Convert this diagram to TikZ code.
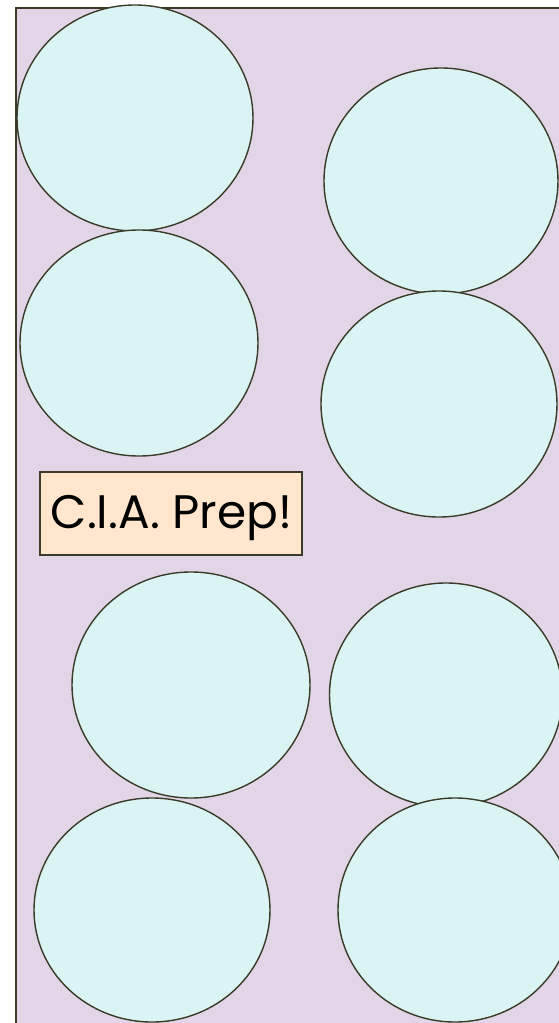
\documentclass[tikz,border=0pt]{standalone}
\usepackage{fontspec}
\setmainfont{Poppins}
\usetikzlibrary{shapes.geometric}
\definecolor{bgpurple}{HTML}{E1D5E7}
\definecolor{discfill}{HTML}{DAF4F4}
\definecolor{edgegray}{HTML}{3A3B28}
\definecolor{tagfill}{HTML}{FFE6CC}

\begin{document}
\begin{tikzpicture}[x=1pt, y=-1pt,
    disc/.style={ellipse, draw=edgegray, fill=discfill, line width=1.4pt, inner sep=0pt},
    tag/.style={rectangle, draw=edgegray, fill=tagfill, line width=1.4pt, inner sep=0pt}]
  \useasboundingbox (0,0) rectangle (558,1023);
  \fill[bgpurple] (16,8) rectangle (570,1030);
  \draw[edgegray, line width=1.4pt] (16,1030) -- (16,8) -- (570,8);
  \node[disc, minimum width=236pt, minimum height=226pt] (a1) at (135,118) {};
  \node[disc, minimum width=234pt, minimum height=226pt] (b1) at (441,181) {};
  \node[disc, minimum width=238pt, minimum height=226pt] (a2) at (139,343) {};
  \node[disc, minimum width=236pt, minimum height=226pt] (b2) at (439,404) {};
  \node[tag, minimum width=262pt, minimum height=83pt] (prep) at (171,513.5) {};
  \node[font=\fontsize{47}{50}\selectfont, anchor=base, inner sep=0pt] (preptext) at (171.5,528) {C.I.A. Prep!};
  \node[disc, minimum width=238pt, minimum height=226pt] (a3) at (191,685) {};
  \node[disc, minimum width=233pt, minimum height=224pt] (b3) at (446,695) {};
  \node[disc, minimum width=236pt, minimum height=224pt] (a4) at (152,910) {};
  \node[disc, minimum width=234pt, minimum height=224pt] (b4) at (455,910) {};
\end{tikzpicture}
\end{document}
